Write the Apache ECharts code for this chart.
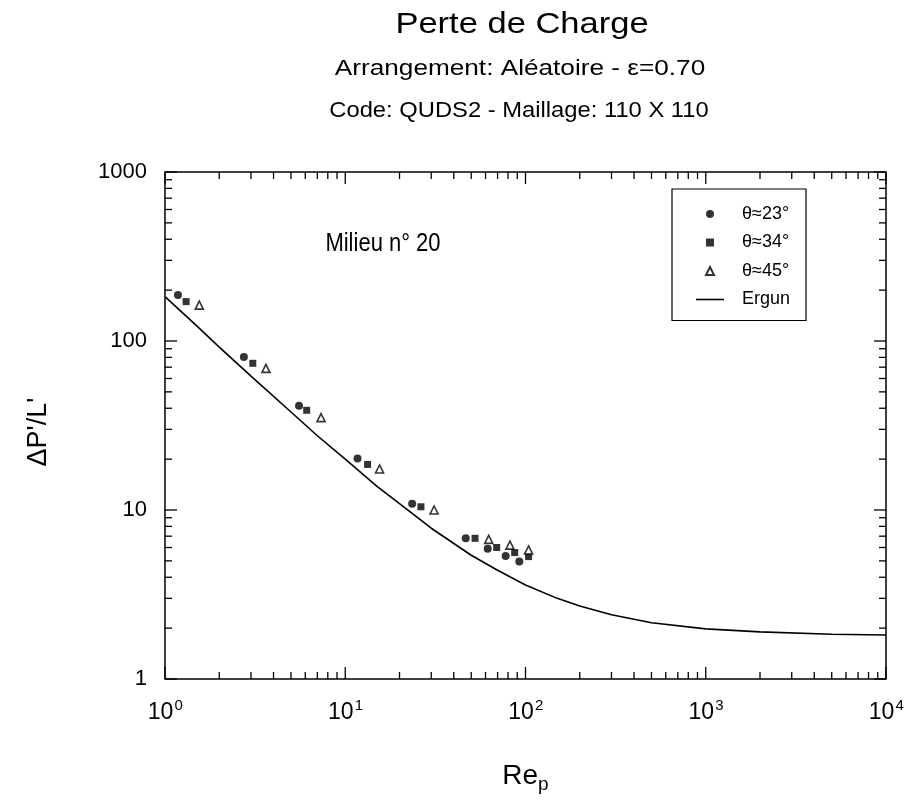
<!DOCTYPE html>
<html>
<head>
<meta charset="utf-8">
<script src="https://cdn.jsdelivr.net/npm/echarts@6/dist/echarts.min.js"></script>
<style>
html,body{margin:0;padding:0;background:#fff;}
#chart{width:904px;height:810px;}
</style>
</head>
<body>
<div id="chart"></div>
<script>
// ---- data ----
var theta23 = [[1.18,187],[2.74,80.4],[5.54,41.4],[11.7,20.2],[23.5,10.9],[46.6,6.8],[61.7,5.9],[77.6,5.35],[92.4,4.95]];
var theta34 = [[1.31,171],[3.07,73.8],[6.11,38.9],[13.3,18.6],[26.3,10.45],[52.5,6.8],[69.2,6.0],[87.1,5.6],[104,5.3]];
var theta45 = [[1.55,163],[3.63,68.9],[7.34,35.2],[15.5,17.5],[31.1,10.0],[62.5,6.7],[82.0,6.2],[104,5.8]];
var ergun = [[1,183],[1.5,123],[2,92],[3,62],[5,38],[7,27.5],[10,20],[15,13.8],[20,10.9],[30,7.8],[50,5.4],[70,4.4],[100,3.6],[150,3.0],[200,2.7],[300,2.4],[500,2.15],[1000,1.98],[2000,1.9],[5000,1.84],[10000,1.82]];
var xTickValues = [1,2,3,4,5,6,7,8,9,10,20,30,40,50,60,70,80,90,100,200,300,400,500,600,700,800,900,1000,2000,3000,4000,5000,6000,7000,8000,9000,10000];
var yTickValues = [1,2,3,4,5,6,7,8,9,10,20,30,40,50,60,70,80,90,100,200,300,400,500,600,700,800,900,1000];
var yTickLabels = {1:'1',10:'10',100:'100',1000:'1000'};
var xExponents = {1:'0',10:'1',100:'2',1000:'3',10000:'4'};
var legendNames = ['θ≈23°','θ≈34°','θ≈45°','Ergun'];

var FONT = "'Liberation Sans',Arial,sans-serif";

function isDecade(v){ var l = Math.log10(v); return Math.abs(l - Math.round(l)) < 1e-9; }

var tickData = [];
xTickValues.forEach(function(v){ tickData.push([v, 1, 0]); });
yTickValues.forEach(function(v){ tickData.push([1, v, 1]); });

var chart = echarts.init(document.getElementById('chart'), null, {renderer:'canvas'});
chart.setOption({
  backgroundColor:'#fff',
  animation:false,
  grid:{left:165, right:18, top:172, bottom:131, outerBoundsMode:'none', containLabel:false,
        show:true, borderColor:'#000', borderWidth:1.5, backgroundColor:'transparent'},
  xAxis:{
    type:'log', logBase:10, min:1, max:10000,
    axisLine:{show:false}, axisTick:{show:false}, splitLine:{show:false}, minorTick:{show:false},
    axisLabel:{
      margin:19,
      formatter:function(v){ var e = xExponents[Math.round(v)]; return e===undefined ? '' : '{sp|}{b|10}{s|'+e+'}'; },
      rich:{
        sp:{width:1},
        b:{fontFamily:FONT, fontSize:23, color:'#000', verticalAlign:'bottom'},
        s:{fontFamily:FONT, fontSize:15, color:'#000', width:9, verticalAlign:'top', padding:[0,0,11,1]}
      }
    },
    name:'{r|Re}{p|p}', nameLocation:'middle', nameGap:80,
    nameTextStyle:{rich:{r:{fontFamily:FONT, fontSize:28, color:'#000'}, p:{fontFamily:FONT, fontSize:19, color:'#000', padding:[16,0,0,0]}}}
  },
  yAxis:{
    type:'log', logBase:10, min:1, max:1000,
    axisLine:{show:false}, axisTick:{show:false}, splitLine:{show:false}, minorTick:{show:false},
    axisLabel:{margin:18, fontFamily:FONT, fontSize:22, color:'#000',
      formatter:function(v){ var t = yTickLabels[Math.round(v)]; return t===undefined ? '' : t; }}
  },
  legend:{
    orient:'vertical', left:672, top:189,
    borderColor:'#000', borderWidth:1.2, borderRadius:0,
    padding:[16,16,12,24], itemGap:10.5, itemWidth:28, itemHeight:8,
    textStyle:{fontFamily:FONT, fontSize:18, color:'#000', padding:[0,0,0,13]},
    data:[
      {name:legendNames[0], icon:'circle'},
      {name:legendNames[1], icon:'path://M0,0L1,0L1,1L0,1Z'},
      {name:legendNames[2], icon:'path://M0.5,0L1,1L0,1Z'},
      {name:legendNames[3], icon:'path://M0,0L28,0L28,1.6L0,1.6Z'}
    ]
  },
  graphic:[
    {type:'text', x:522, y:25, scaleX:1.15, style:{text:'Perte de Charge', font:'30px '+FONT, fill:'#000', align:'center', verticalAlign:'middle'}},
    {type:'text', x:520, y:69, scaleX:1.19, style:{text:'Arrangement: Aléatoire - ε=0.70', font:'22px '+FONT, fill:'#000', align:'center', verticalAlign:'middle'}},
    {type:'text', x:519, y:111, scaleX:1.08, style:{text:'Code: QUDS2 - Maillage: 110 X 110', font:'22px '+FONT, fill:'#000', align:'center', verticalAlign:'middle'}},
    {type:'text', x:383, y:244, scaleX:0.88, style:{text:'Milieu n° 20', font:'25px '+FONT, fill:'#000', align:'center', verticalAlign:'middle'}},
    {type:'text', x:39, y:432, rotation:Math.PI/2, style:{text:"ΔP'/L'", font:'27px '+FONT, fill:'#000', align:'center', verticalAlign:'middle'}}
  ],
  series:[
    {name:'ticks', type:'custom', silent:true, data:tickData, encode:{x:0,y:1}, clip:false, z:5,
     renderItem:function(params, api){
       var cs = params.coordSys;
       var kind = api.value(2);
       var children = [];
       var style = {stroke:'#000', lineWidth:1.3};
       if (kind === 0) {
         var v = api.value(0);
         var len = isDecade(v) ? 12 : 7;
         var px = api.coord([v, 1])[0];
         children.push({type:'line', shape:{x1:px, y1:cs.y+cs.height, x2:px, y2:cs.y+cs.height-len}, style:style});
         children.push({type:'line', shape:{x1:px, y1:cs.y, x2:px, y2:cs.y+len}, style:style});
       } else {
         var w = api.value(1);
         var len2 = isDecade(w) ? 12 : 7;
         var py = api.coord([1, w])[1];
         children.push({type:'line', shape:{x1:cs.x, y1:py, x2:cs.x+len2, y2:py}, style:style});
         children.push({type:'line', shape:{x1:cs.x+cs.width, y1:py, x2:cs.x+cs.width-len2, y2:py}, style:style});
       }
       return {type:'group', children:children};
     }},
    {name:'Ergun', type:'line', data:ergun, symbol:'none', lineStyle:{color:'#000', width:1.6}, itemStyle:{color:'#000'}, z:3},
    {name:'θ≈23°', type:'scatter', data:theta23, symbol:'circle', symbolSize:8, itemStyle:{color:'#000'}, z:4},
    {name:'θ≈34°', type:'scatter', data:theta34, symbol:'rect', symbolSize:7, itemStyle:{color:'#000'}, z:4},
    {name:'θ≈45°', type:'scatter', data:theta45, symbol:'triangle', symbolSize:8, itemStyle:{color:'#fff', borderColor:'#000', borderWidth:1.6}, z:4}
  ]
});
</script>
</body>
</html>
